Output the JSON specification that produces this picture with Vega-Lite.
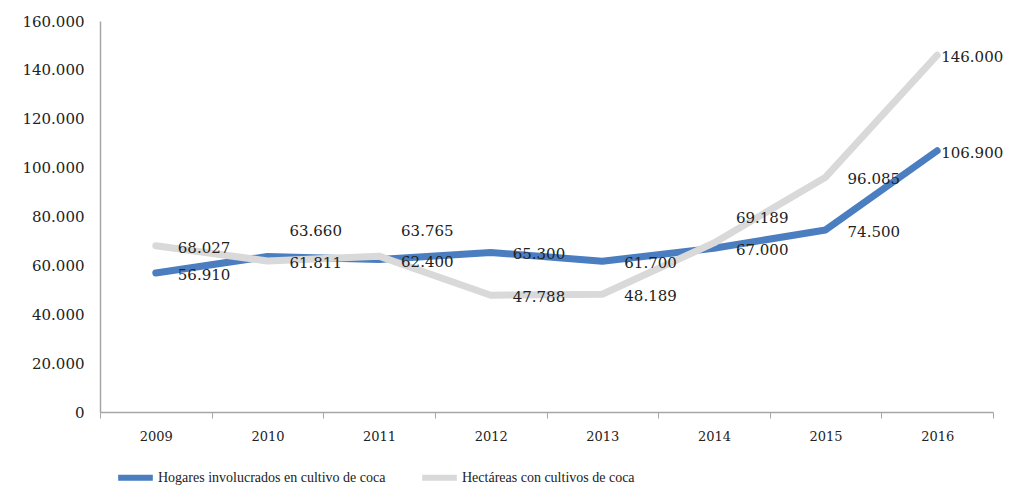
{
  "$schema": "https://vega.github.io/schema/vega-lite/v6.json",
  "autosize": "none",
  "width": 893,
  "height": 391,
  "padding": {"left": 100, "top": 21, "right": 20, "bottom": 76},
  "background": "white",
  "config": {
    "locale": {"number": {"decimal": ",", "thousands": ".", "grouping": [3], "currency": ["", ""]}},
    "view": {"stroke": null},
    "font": "DejaVu Serif"
  },
  "data": {"values": [
    {"year": "2009", "serie": "Hogares involucrados en cultivo de coca", "value": 56910},
    {"year": "2010", "serie": "Hogares involucrados en cultivo de coca", "value": 63660},
    {"year": "2011", "serie": "Hogares involucrados en cultivo de coca", "value": 62400},
    {"year": "2012", "serie": "Hogares involucrados en cultivo de coca", "value": 65300},
    {"year": "2013", "serie": "Hogares involucrados en cultivo de coca", "value": 61700},
    {"year": "2014", "serie": "Hogares involucrados en cultivo de coca", "value": 67000},
    {"year": "2015", "serie": "Hogares involucrados en cultivo de coca", "value": 74500},
    {"year": "2016", "serie": "Hogares involucrados en cultivo de coca", "value": 106900},
    {"year": "2009", "serie": "Hectáreas con cultivos de coca", "value": 68027},
    {"year": "2010", "serie": "Hectáreas con cultivos de coca", "value": 61811},
    {"year": "2011", "serie": "Hectáreas con cultivos de coca", "value": 63765},
    {"year": "2012", "serie": "Hectáreas con cultivos de coca", "value": 47788},
    {"year": "2013", "serie": "Hectáreas con cultivos de coca", "value": 48189},
    {"year": "2014", "serie": "Hectáreas con cultivos de coca", "value": 69189},
    {"year": "2015", "serie": "Hectáreas con cultivos de coca", "value": 96085},
    {"year": "2016", "serie": "Hectáreas con cultivos de coca", "value": 146000}
  ]},
  "transform": [
    {"joinaggregate": [{"op": "max", "field": "value", "as": "maxv"}, {"op": "min", "field": "value", "as": "minv"}], "groupby": ["year"]}
  ],
  "encoding": {
    "x": {
      "field": "year", "type": "ordinal", "title": null,
      "scale": {"paddingInner": 0, "paddingOuter": 0},
      "axis": {
        "labelAngle": 0, "labelFont": "DejaVu Serif", "labelFontSize": 13, "labelColor": "#222",
        "domainColor": "#A6A6A6", "domainWidth": 1.5, "tickColor": "#A6A6A6", "tickBand": "extent",
        "tickSize": 6, "labelPadding": 12, "grid": false
      }
    },
    "y": {
      "field": "value", "type": "quantitative", "title": null,
      "scale": {"domain": [0, 160000], "nice": false},
      "axis": {
        "values": [0, 20000, 40000, 60000, 80000, 100000, 120000, 140000, 160000],
        "format": ",d", "labelFont": "DejaVu Serif", "labelFontSize": 15, "labelColor": "#222",
        "domainColor": "#A6A6A6", "domainWidth": 1.5, "ticks": false, "grid": false, "labelPadding": 16
      }
    },
    "color": {
      "field": "serie", "type": "nominal", "title": null,
      "scale": {
        "domain": ["Hogares involucrados en cultivo de coca", "Hectáreas con cultivos de coca"],
        "range": ["#4A7EC0", "#D9D9D9"]
      },
      "legend": {
        "orient": "none", "legendX": 15, "legendY": 436, "direction": "horizontal",
        "symbolType": "stroke", "symbolStrokeWidth": 6, "symbolSize": 1200,
        "labelFont": "Liberation Serif", "labelFontSize": 14, "labelColor": "#222",
        "labelLimit": 400, "columnPadding": 24, "labelOffset": 2
      }
    }
  },
  "layer": [
    {"mark": {"type": "line", "strokeWidth": 7, "strokeCap": "round", "strokeJoin": "round"}},
    {
      "transform": [{"filter": "datum.year != '2016' && !(datum.value == datum.maxv && datum.maxv - datum.minv < 5000)"}],
      "mark": {"type": "text", "align": "left", "baseline": "middle", "dx": 22, "dy": 2, "fontSize": 15, "font": "DejaVu Serif", "color": "#222"},
      "encoding": {"text": {"field": "value", "type": "quantitative", "format": ",d"}, "color": {"value": "#222"}}
    },
    {
      "transform": [{"filter": "datum.value == datum.maxv && datum.maxv - datum.minv < 5000"}],
      "mark": {"type": "text", "align": "left", "baseline": "middle", "dx": 22, "dy": -25, "fontSize": 15, "font": "DejaVu Serif", "color": "#222"},
      "encoding": {"text": {"field": "value", "type": "quantitative", "format": ",d"}, "color": {"value": "#222"}}
    },
    {
      "transform": [{"filter": "datum.year == '2016'"}],
      "mark": {"type": "text", "align": "left", "baseline": "middle", "dx": 4, "dy": 2, "fontSize": 15, "font": "DejaVu Serif", "color": "#222"},
      "encoding": {"text": {"field": "value", "type": "quantitative", "format": ",d"}, "color": {"value": "#222"}}
    }
  ]
}
